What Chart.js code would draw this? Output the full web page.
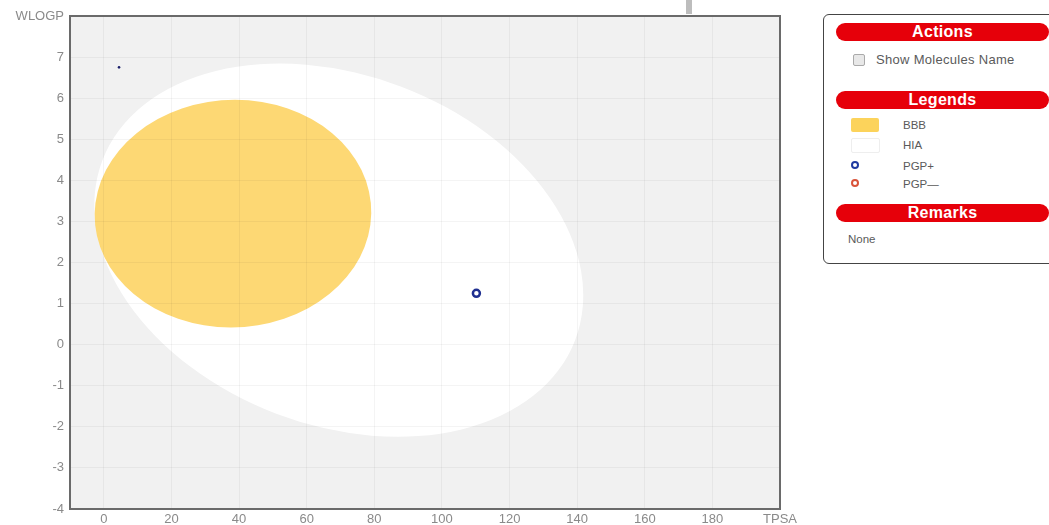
<!DOCTYPE html>
<html>
<head>
<meta charset="utf-8">
<script src="https://cdn.jsdelivr.net/npm/chart.js@4"></script>
<style>
  body { margin: 0; background: #fff; font-family: "Liberation Sans", Arial, sans-serif; }
  #wrap { position: absolute; left: 0; top: 0; width: 800px; height: 525px; }
  .panel { position: absolute; left: 823px; top: 14px; width: 240px; height: 248px; border: 1px solid #444; border-radius: 6px; }
  .hdr { position: absolute; left: 836px; width: 213px; height: 18px; border-radius: 9px; background: #e6000a;
         color: #fff; font: bold 16px "Liberation Sans", Arial, sans-serif; text-align: center; line-height: 18px; letter-spacing: 0.3px; }
  .txt { position: absolute; color: #5a5a5a; font-size: 12px; line-height: 14px; }
  .sw { position: absolute; left: 851px; width: 28px; height: 14px; border-radius: 2px; }
  .dot { position: absolute; width: 4px; height: 4px; border-radius: 50%; border: 2.5px solid; background: #fff; }
  .chk { position: absolute; left: 853px; top: 54px; width: 10px; height: 10px; border: 1px solid #aaa; background: #e8e8e8; border-radius: 2px; }
  .mark { position: absolute; left: 686px; top: 0; width: 6px; height: 14px; background: #bdbdbd; }
</style>
</head>
<body>
<div id="wrap"><canvas id="egg" width="800" height="525"></canvas></div>
<div class="mark"></div>

<div class="panel"></div>
<div class="hdr" style="top:23px">Actions</div>
<div class="chk"></div>
<div class="txt" style="left:876px;top:53px;font-size:13px;letter-spacing:0.3px">Show Molecules Name</div>
<div class="hdr" style="top:91px">Legends</div>
<div class="sw" style="top:118px;background:#fcd35b"></div>
<div class="txt" style="left:903px;top:118px;font-size:11.5px">BBB</div>
<div class="sw" style="top:138px;background:#fff;border:1px solid #eee;width:27px;height:13px"></div>
<div class="txt" style="left:903px;top:138px;font-size:11.5px">HIA</div>
<div class="dot" style="left:851px;top:161px;border-color:#1f3aa0"></div>
<div class="txt" style="left:903px;top:159px;font-size:11.5px">PGP+</div>
<div class="dot" style="left:851px;top:179px;border-color:#d9533a"></div>
<div class="txt" style="left:903px;top:177px;font-size:11.5px">PGP—</div>
<div class="hdr" style="top:204px">Remarks</div>
<div class="txt" style="left:848px;top:232px;font-size:11.5px">None</div>

<script>
// tick values / labels
var xTickValues = [0, 20, 40, 60, 80, 100, 120, 140, 160, 180, 200];
var xTickLabels = ["0", "20", "40", "60", "80", "100", "120", "140", "160", "180", "TPSA"];
var yTickValues = [-4, -3, -2, -1, 0, 1, 2, 3, 4, 5, 6, 7, 8];
var yTickLabels = ["-4", "-3", "-2", "-1", "0", "1", "2", "3", "4", "5", "6", "7", "WLOGP"];

// molecules
var pgpPlus = [{ x: 110.2, y: 1.25 }];
var pgpMinus = [];
var strayPts = [{ x: 4.5, y: 6.75 }];

// egg regions: centre + two conjugate semi-axes, in data units
var hiaCenter = [69.5, 2.3];
var hiaAxisU = [69.9, -2.19];
var hiaAxisV = [-18.5, -3.98];
var bbbCenter = [38.2, 3.19];
var bbbAxisU = [40.9, 0.0];
var bbbAxisV = [0.6, 2.77];

function drawEllipse(chart, c, u, v, color) {
  var xs = chart.scales.x, ys = chart.scales.y, ctx = chart.ctx;
  var px = xs.getPixelForValue(c[0]), py = ys.getPixelForValue(c[1]);
  var ux = xs.getPixelForValue(c[0] + u[0]) - px, uy = ys.getPixelForValue(c[1] + u[1]) - py;
  var vx = xs.getPixelForValue(c[0] + v[0]) - px, vy = ys.getPixelForValue(c[1] + v[1]) - py;
  ctx.save();
  ctx.beginPath();
  ctx.translate(px, py);
  ctx.transform(ux, uy, vx, vy, 0, 0);
  ctx.arc(0, 0, 1, 0, Math.PI * 2);
  ctx.restore();
  ctx.save();
  ctx.fillStyle = color;
  ctx.fill();
  ctx.restore();
}

var eggPlugin = {
  id: "egg",
  beforeDraw: function(chart) {
    var a = chart.chartArea, ctx = chart.ctx;
    ctx.save();
    ctx.fillStyle = "#f1f1f1";
    ctx.fillRect(a.left, a.top, a.right - a.left, a.bottom - a.top);
    ctx.beginPath();
    ctx.rect(a.left, a.top, a.right - a.left, a.bottom - a.top);
    ctx.clip();
    drawEllipse(chart, hiaCenter, hiaAxisU, hiaAxisV, "#ffffff");
    drawEllipse(chart, bbbCenter, bbbAxisU, bbbAxisV, "#fdd874");
    ctx.restore();
  },
  afterDraw: function(chart) {
    var a = chart.chartArea, ctx = chart.ctx;
    ctx.save();
    ctx.strokeStyle = "#6a6a6a";
    ctx.lineWidth = 2;
    ctx.strokeRect(a.left, a.top, a.right - a.left, a.bottom - a.top);
    ctx.restore();
  }
};

var tickFont = { family: "'Liberation Sans', Arial, sans-serif", size: 13 };

new Chart(document.getElementById("egg"), {
  type: "scatter",
  data: {
    datasets: [
      { label: "PGP+", data: pgpPlus, pointRadius: 3.5, pointBorderWidth: 2.5, pointBorderColor: "#1f2f90", pointBackgroundColor: "#ffffff" },
      { label: "PGP-", data: pgpMinus, pointRadius: 3.5, pointBorderWidth: 2.5, pointBorderColor: "#d9533a", pointBackgroundColor: "#ffffff" },
      { label: "other", data: strayPts, pointRadius: 1.3, pointBorderWidth: 0, pointBackgroundColor: "#1a1f6a" }
    ]
  },
  options: {
    responsive: false,
    animation: false,
    layout: { padding: { left: 0, top: 16, right: 20, bottom: 0 } },
    plugins: { legend: { display: false }, tooltip: { enabled: false } },
    scales: {
      x: {
        type: "linear", min: -10, max: 200,
        afterBuildTicks: function(s) { s.ticks = xTickValues.map(function(v) { return { value: v }; }); },
        afterFit: function(s) { s.height = 16; },
        grid: { color: "rgba(0,0,0,0.045)", drawTicks: false },
        border: { display: false },
        ticks: {
          padding: 3, color: "#8a8a8a", font: tickFont, maxRotation: 0, autoSkip: false,
          callback: function(v) { var i = xTickValues.indexOf(v); return i < 0 ? "" : xTickLabels[i]; }
        }
      },
      y: {
        type: "linear", min: -4, max: 8,
        afterBuildTicks: function(s) { s.ticks = yTickValues.map(function(v) { return { value: v }; }); },
        afterFit: function(s) { s.width = 70; },
        grid: { color: "rgba(0,0,0,0.045)", drawTicks: false },
        border: { display: false },
        ticks: {
          padding: 6, color: "#8a8a8a", font: tickFont, autoSkip: false,
          callback: function(v) { var i = yTickValues.indexOf(v); return i < 0 ? "" : yTickLabels[i]; }
        }
      }
    }
  },
  plugins: [eggPlugin]
});
</script>
</body>
</html>
